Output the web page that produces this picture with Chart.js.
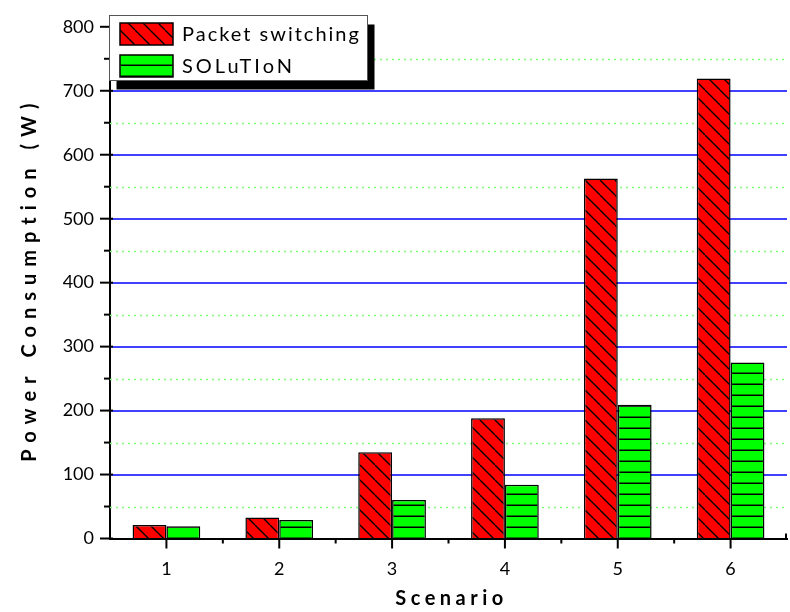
<!DOCTYPE html>
<html>
<head>
<meta charset="utf-8">
<script src="https://cdn.jsdelivr.net/npm/chart.js"></script>
<style>
  html, body { margin: 0; padding: 0; background: #fff; }
  #wrap { width: 790px; height: 612px; }
</style>
</head>
<body>
<div id="wrap"><canvas id="grafico" width="790" height="612"></canvas></div>
<script>
// dados
const cenarios = ['1', '2', '3', '4', '5', '6'];
const packetSwitching = [21, 33, 135, 188, 563, 719];
const solution = [19, 29, 60, 84, 209, 275];
const nomesSeries = ['Packet switching', 'SOLuTIoN'];
const yMin = 0, yMax = 800, yPasso = 100;

const FONTE = 'Lato, "Open Sans", sans-serif';

// padroes de preenchimento (hachura)
function padraoDiagonal() {
    const c = document.createElement('canvas');
    c.width = 15; c.height = 15;
    const g = c.getContext('2d');
    g.fillStyle = '#ff0000';
    g.fillRect(0, 0, 15, 15);
    g.strokeStyle = '#000';
    g.lineWidth = 1.3;
    for (const x0 of [-15, 0, 15]) {
        g.beginPath();
        g.moveTo(x0, 0);
        g.lineTo(x0 + 15, 15);
        g.stroke();
    }
    return g.createPattern(c, 'repeat');
}

function padraoHorizontal() {
    const c = document.createElement('canvas');
    c.width = 10; c.height = 11;
    const g = c.getContext('2d');
    g.fillStyle = '#00ff00';
    g.fillRect(0, 0, 10, 11);
    g.fillStyle = '#000';
    g.fillRect(0, 9.5, 10, 1.5);
    return g.createPattern(c, 'repeat');
}

const hachuraVermelha = padraoDiagonal();
const hachuraVerde = padraoHorizontal();

// grade (principal azul, secundaria pontilhada) + marcas dos eixos
const eixosPlugin = {
    id: 'eixosExtra',
    beforeDatasetsDraw(chart) {
        const { ctx, chartArea, scales } = chart;
        ctx.save();
        ctx.lineWidth = 1.5;
        ctx.strokeStyle = '#7dff7d';
        ctx.setLineDash([2, 4]);
        for (let v = yMin + yPasso / 2; v < yMax; v += yPasso) {
            const y = Math.round(scales.y.getPixelForValue(v)) + 0.5;
            ctx.beginPath();
            ctx.moveTo(chartArea.left, y);
            ctx.lineTo(chartArea.right, y);
            ctx.stroke();
        }
        ctx.setLineDash([]);
        ctx.lineWidth = 1.6;
        ctx.strokeStyle = '#0000ff';
        for (let v = yMin + yPasso; v < yMax; v += yPasso) {
            const y = Math.round(scales.y.getPixelForValue(v));
            ctx.beginPath();
            ctx.moveTo(chartArea.left, y);
            ctx.lineTo(chartArea.right, y);
            ctx.stroke();
        }
        ctx.restore();
    },
    afterDraw(chart) {
        const { ctx, chartArea, scales } = chart;
        const { left, bottom } = chartArea;
        ctx.save();
        ctx.strokeStyle = '#000';
        ctx.lineWidth = 2;
        // eixo x
        cenarios.forEach((c, i) => {
            const x = scales.x.getPixelForValue(i);
            ctx.beginPath(); ctx.moveTo(x, bottom); ctx.lineTo(x, bottom + 10); ctx.stroke();
            const xm = scales.x.getPixelForValue(i + 0.5);
            ctx.beginPath();
            if (i < cenarios.length - 1) { ctx.moveTo(xm, bottom); ctx.lineTo(xm, bottom + 5); }
            else { ctx.moveTo(xm - 1, bottom); ctx.lineTo(xm - 1, bottom - 5); }
            ctx.stroke();
        });
        // eixo y
        for (let v = yMin; v <= yMax; v += yPasso) {
            const y = scales.y.getPixelForValue(v);
            ctx.beginPath(); ctx.moveTo(left - 10, y); ctx.lineTo(left + 3, y); ctx.stroke();
            if (v < yMax) {
                const ym = scales.y.getPixelForValue(v + yPasso / 2);
                ctx.beginPath(); ctx.moveTo(left - 6, ym); ctx.lineTo(left, ym); ctx.stroke();
            }
        }

        // titulos dos eixos (letterSpacing deixa espaco no fim; compensa metade)
        ctx.fillStyle = '#000';
        ctx.textAlign = 'center';
        ctx.textBaseline = 'middle';
        ctx.font = 'bold 20px ' + FONTE;
        ctx.letterSpacing = '4.5px';
        ctx.fillText('Scenario', (chartArea.left + chartArea.right) / 2 + 3, 599);
        ctx.save();
        ctx.translate(30, (chartArea.top + chartArea.bottom) / 2);
        ctx.rotate(-Math.PI / 2);
        ctx.letterSpacing = '7px';
        ctx.fillText('Power Consumption (W)', 3.5, 0);
        ctx.restore();
        ctx.letterSpacing = '0px';

        // legenda com sombra
        const bx = 109.5, by = 15.5, bw = 258, bh = 65;
        ctx.fillStyle = '#000';
        ctx.fillRect(bx + 7, by + 9, bw, bh);
        ctx.fillStyle = '#fff';
        ctx.fillRect(bx, by, bw, bh);
        ctx.strokeStyle = '#555';
        ctx.lineWidth = 1;
        ctx.strokeRect(bx, by, bw, bh);

        chart.data.datasets.forEach((ds, i) => {
            const sy = 23 + i * 32;
            ctx.fillStyle = ds.backgroundColor;
            ctx.fillRect(120, sy, 53, 22);
            ctx.strokeStyle = '#000';
            ctx.lineWidth = 1.5;
            ctx.strokeRect(120, sy, 53, 22);
            ctx.fillStyle = '#000';
            ctx.font = '20px ' + FONTE;
            ctx.textAlign = 'left';
            ctx.letterSpacing = i === 0 ? '2px' : '3px';
            ctx.fillText(ds.label, 182, sy + 12);
            ctx.letterSpacing = '0px';
        });
        ctx.restore();
    }
};

new Chart(document.getElementById('grafico').getContext('2d'), {
    type: 'bar',
    data: {
        labels: cenarios,
        datasets: [{
            label: nomesSeries[0],
            data: packetSwitching,
            backgroundColor: hachuraVermelha,
            borderColor: '#000',
            borderWidth: 1.5,
            categoryPercentage: 0.6,
            barPercentage: 1.0
        }, {
            label: nomesSeries[1],
            data: solution,
            backgroundColor: hachuraVerde,
            borderColor: '#000',
            borderWidth: 1.5,
            categoryPercentage: 0.6,
            barPercentage: 1.0
        }]
    },
    options: {
        responsive: false,
        animation: false,
        layout: { padding: { top: 15, right: 3, left: 0, bottom: 0 } },
        plugins: { legend: { display: false }, tooltip: { enabled: false } },
        scales: {
            x: {
                grid: { display: false, drawTicks: false },
                border: { display: true, color: '#000', width: 2 },
                ticks: { color: '#000', font: { family: FONTE, size: 18 }, padding: 20 },
                afterFit: s => { s.height = 73.5; }
            },
            y: {
                min: yMin,
                max: yMax,
                ticks: { stepSize: yPasso, color: '#000', font: { family: FONTE, size: 18 }, padding: 16 },
                grid: { drawOnChartArea: false, drawTicks: false },
                border: { display: true, color: '#000', width: 2 },
                afterFit: s => { s.width = 110; }
            }
        }
    },
    plugins: [eixosPlugin]
});
</script>
</body>
</html>
